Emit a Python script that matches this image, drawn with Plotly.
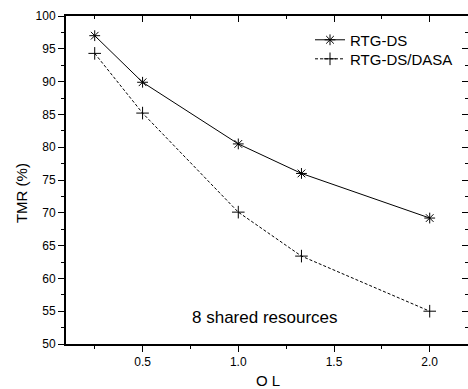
import plotly.graph_objects as go

ol = [0.25, 0.5, 1.0, 1.33, 2.0]
rtg_ds = [97.0, 89.9, 80.5, 76.0, 69.2]
rtg_ds_dasa = [94.3, 85.2, 70.1, 63.4, 55.0]

x_ticks = [0.5, 1.0, 1.5, 2.0]
x_tick_labels = ["0.5", "1.0", "1.5", "2.0"]
y_ticks = [50, 55, 60, 65, 70, 75, 80, 85, 90, 95, 100]

font = "Liberation Sans, Arial, sans-serif"
XR = [0.1, 2.2]
YR = [50, 100]

fig = go.Figure()
fig.add_trace(go.Scatter(
    x=ol, y=rtg_ds, name="RTG-DS", mode="lines+markers", legend="legend",
    line=dict(color="black", width=1),
    marker=dict(symbol="asterisk-open", size=9, color="black", line=dict(width=1, color="black")),
))
fig.add_trace(go.Scatter(
    x=ol, y=rtg_ds_dasa, name="RTG-DS/DASA", mode="lines+markers", legend="legend2",
    line=dict(color="black", width=1, dash="3px,2px"),
    marker=dict(symbol="cross-thin-open", size=9, color="black", line=dict(width=1, color="black")),
))
# invisible trace to activate overlay axes (top / right ticks)
fig.add_trace(go.Scatter(x=[None], y=[None], xaxis="x2", yaxis="y2",
                         showlegend=False, hoverinfo="skip"))

common_legend = dict(xanchor="left", yanchor="top", bgcolor="rgba(0,0,0,0)",
                     font=dict(size=15), itemwidth=30, borderwidth=0)

fig.update_layout(
    width=468, height=389,
    margin=dict(l=66, r=0, t=16, b=45, autoexpand=False),
    paper_bgcolor="white", plot_bgcolor="white",
    font=dict(family=font, color="black", size=12),
    showlegend=True,
    legend=dict(x=0.607, y=0.977, **common_legend),
    legend2=dict(x=0.607, y=0.919, **common_legend),
    xaxis=dict(range=XR, tickvals=x_ticks, ticktext=x_tick_labels, automargin=False,
               showline=True, linecolor="black", linewidth=2,
               ticks="outside", ticklen=6, tickwidth=1, tickcolor="black",
               minor=dict(dtick=0.25, tick0=0, ticks="outside", ticklen=3, tickcolor="black"),
               showgrid=False, zeroline=False, tickfont=dict(size=12)),
    yaxis=dict(range=YR, tickvals=y_ticks, automargin=False,
               showline=True, linecolor="black", linewidth=2,
               ticks="outside", ticklen=6, tickwidth=1, tickcolor="black",
               minor=dict(dtick=2.5, tick0=50, ticks="outside", ticklen=3, tickcolor="black"),
               showgrid=False, zeroline=False, tickfont=dict(size=12)),
    xaxis2=dict(range=XR, overlaying="x", anchor="y", side="top", automargin=False,
                tickvals=x_ticks, showticklabels=False,
                showline=True, linecolor="black", linewidth=2,
                ticks="inside", ticklen=6, tickcolor="black",
                minor=dict(dtick=0.25, tick0=0, ticks="inside", ticklen=3, tickcolor="black"),
                showgrid=False, zeroline=False),
    yaxis2=dict(range=YR, overlaying="y", anchor="x", side="right", automargin=False,
                tickvals=y_ticks, showticklabels=False, showline=False,
                ticks="inside", ticklen=6, tickcolor="black",
                minor=dict(dtick=2.5, tick0=50, ticks="inside", ticklen=3, tickcolor="black"),
                showgrid=False, zeroline=False),
    annotations=[
        dict(text="8 shared resources", x=1.14, y=54.0, xref="x", yref="y",
             xanchor="center", yanchor="middle", showarrow=False, font=dict(size=17)),
        dict(text="TMR (%)", x=-0.112, y=0.46, xref="paper", yref="paper", textangle=-90,
             xanchor="center", yanchor="middle", showarrow=False, font=dict(size=15)),
        dict(text="O L", x=0.5025, y=-0.1128, xref="paper", yref="paper",
             xanchor="center", yanchor="middle", showarrow=False, font=dict(size=15)),
    ],
)

fig.write_html("out.html", config={"displayModeBar": False},
               post_script="document.body.style.margin='0';document.body.style.overflow='hidden';")
